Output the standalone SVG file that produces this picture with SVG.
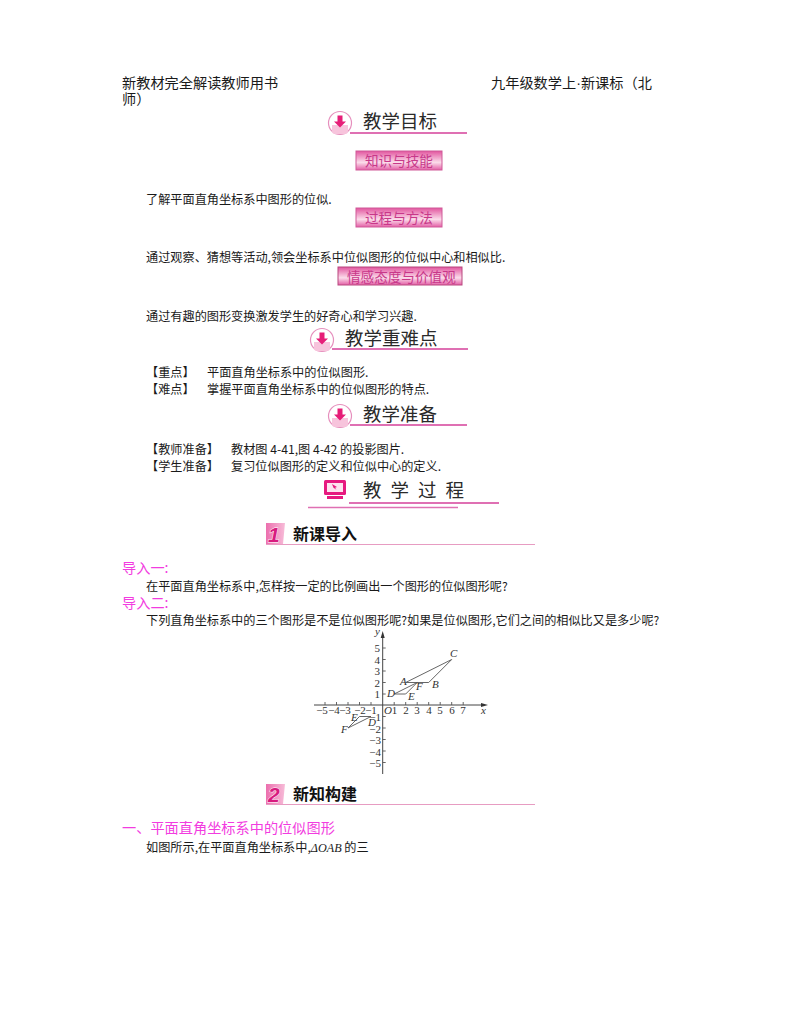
<svg xmlns="http://www.w3.org/2000/svg" width="800" height="1028" viewBox="0 0 800 1028">
<style>
text{font-family:"Noto Sans CJK SC","Noto Sans",sans-serif;fill:#1a1a1a}
.h{font-size:14.2px}
.b{font-size:12.16px}
.m{font-size:14.2px;fill:#f23ce0}
.t{font-size:18.5px;fill:#2a2a2a}
.p{font-size:13.6px;fill:#c8388a}
.s{font-size:16px;font-weight:700;fill:#111}
.u{stroke:#d4409a;stroke-width:1.3;fill:none}
.n{font-family:"Liberation Serif",serif;font-size:11px;fill:#333}
.i{font-family:"Liberation Serif",serif;font-style:italic;font-size:11px;fill:#333}
.a{stroke:#444;stroke-width:1;fill:none}
.l{stroke:#555;stroke-width:.9;fill:none}
.d{font-family:"Liberation Sans",sans-serif;font-style:italic;font-weight:700;font-size:21px;fill:#d81b7f;stroke:#fff;stroke-width:.8;paint-order:stroke}
</style>
<defs>
<linearGradient id="g" x1="0" y1="0" x2="0" y2="1"><stop offset="0" stop-color="#e2559f"/><stop offset=".6" stop-color="#fbdcea"/><stop offset="1" stop-color="#e35ea6"/></linearGradient>
<linearGradient id="k" x1="0" y1="0" x2="1" y2="0"><stop offset="0" stop-color="#ec6fae"/><stop offset="1" stop-color="#f7bcd8"/></linearGradient>
<g id="badge"><circle r="11.5" fill="#fff" stroke="#e68fbd" stroke-width="1.2"/><path d="M-8 2h16v6a3 3 0 0 1-3 3h-10a3 3 0 0 1-3-3z" fill="#f7c4dc"/><path d="M-2.500-7.500h5v6h3.500l-6 6-6-6h3.500z" fill="#e61e78"/></g>
</defs>
<text class="h" x="122" y="87.500">新教材完全解读教师用书</text>
<text class="h" x="491" y="87.500">九年级数学上<tspan style="font-family:'Liberation Sans',sans-serif">·</tspan>新课标（北</text>
<text class="h" x="122" y="103.500">师）</text>
<g id="node-goal"><use href="#badge" x="340" y="123"/><path class="u" d="M350 133H467"/><text class="t" x="363" y="128">教学目标</text></g>
<g id="node-skill"><rect x="356" y="151" width="86" height="19" fill="url(#g)" stroke="#d05a98"/><text class="p" x="365" y="165.500">知识与技能</text></g>
<text class="b" x="146" y="204">了解平面直角坐标系中图形的位似.</text>
<g id="node-method"><rect x="356" y="208" width="86" height="19" fill="url(#g)" stroke="#d05a98"/><text class="p" x="365" y="223">过程与方法</text></g>
<text class="b" x="146" y="262">通过观察、猜想等活动,领会坐标系中位似图形的位似中心和相似比.</text>
<g id="node-attitude"><rect x="338" y="267" width="124" height="18" fill="url(#g)" stroke="#b8487f"/><text class="p" x="347" y="281.500">情感态度与价值观</text></g>
<text class="b" x="146" y="321">通过有趣的图形变换激发学生的好奇心和学习兴趣.</text>
<g id="node-key"><use href="#badge" x="322" y="340"/><path class="u" d="M332 349H468"/><text class="t" x="345" y="345">教学重难点</text></g>
<text class="b" x="146" y="377">【重点】</text><text class="b" x="207" y="377">平面直角坐标系中的位似图形.</text>
<text class="b" x="146" y="394">【难点】</text><text class="b" x="207" y="394">掌握平面直角坐标系中的位似图形的特点.</text>
<g id="node-prep"><use href="#badge" x="340" y="416"/><path class="u" d="M350 425H467"/><text class="t" x="363" y="421">教学准备</text></g>
<text class="b" x="146" y="453.500">【教师准备】</text><text class="b" x="231" y="453.500">教材图 4-41,图 4-42 的投影图片.</text>
<text class="b" x="146" y="470.500">【学生准备】</text><text class="b" x="231" y="470.500">复习位似图形的定义和位似中心的定义.</text>
<g id="node-process">
<rect x="324" y="480" width="22" height="15" rx="1.500" fill="#e6197f"/><rect x="327" y="483" width="16" height="9" fill="#fde3ef"/><path d="M332 484l5 3-2 .7 1.500 2-3-2z" fill="#e6197f"/><path d="M327 496h16v3h-16z" fill="#e6197f"/>
<text class="t" x="363" y="497" style="letter-spacing:9px">教学过程</text>
<path class="u" d="M349 503H499"/><path class="u" d="M308 507.500H458" stroke-opacity=".75"/></g>
<g id="node-intro"><path d="M266 523h19l-2 21h-17z" fill="url(#k)"/><text class="d" x="268" y="542">1</text><path d="M266 544.500H535" stroke="#e79cc2" stroke-width="1.200"/><text class="s" x="293" y="540">新课导入</text></g>
<text class="m" x="122" y="573">导入一:</text>
<text class="b" x="146" y="591">在平面直角坐标系中,怎样按一定的比例画出一个图形的位似图形呢?</text>
<text class="m" x="122" y="607.500">导入二:</text>
<text class="b" x="146" y="625">下列直角坐标系中的三个图形是不是位似图形呢?如果是位似图形,它们之间的相似比又是多少呢?</text>
<g id="chart">
<path class="a" d="M314 705H484M382.700 774V636"/>
<path d="M488 705l-7-2v4zM382.700 631l-2 7h4z" fill="#333"/>
<path class="l" d="M325 705v-3M336.500 705v-3M348 705v-3M359.500 705v-3M371 705v-3M394.200 705v-3M405.700 705v-3M417.200 705v-3M428.700 705v-3M440.200 705v-3M451.700 705v-3M463.200 705v-3M382.700 648h3M382.700 659.500h3M382.700 671h3M382.700 682.500h3M382.700 694h3M382.700 716.500h3M382.700 728h3M382.700 739.500h3M382.700 751h3M382.700 762.500h3"/>
<path class="l" d="M405.700 682.500L451.700 659.500L428.700 682.500ZM394.200 694L417.200 682.500L405.700 694ZM348 728L371 716.500H359.500Z"/>
<text class="n" x="322" y="714" text-anchor="middle">−5</text><text class="n" x="334" y="714" text-anchor="middle">−4</text><text class="n" x="345" y="714" text-anchor="middle">−3</text><text class="n" x="360" y="714" text-anchor="middle">−2</text><text class="n" x="371" y="714" text-anchor="middle">−1</text>
<text class="n" x="394.500" y="714" text-anchor="middle">1</text><text class="n" x="406" y="714" text-anchor="middle">2</text><text class="n" x="417" y="714" text-anchor="middle">3</text><text class="n" x="429" y="714" text-anchor="middle">4</text><text class="n" x="440" y="714" text-anchor="middle">5</text><text class="n" x="452" y="714" text-anchor="middle">6</text><text class="n" x="463" y="714" text-anchor="middle">7</text>
<text class="n" x="380" y="652" text-anchor="end">5</text><text class="n" x="380" y="663.500" text-anchor="end">4</text><text class="n" x="380" y="675" text-anchor="end">3</text><text class="n" x="380" y="686.500" text-anchor="end">2</text><text class="n" x="380" y="698" text-anchor="end">1</text>
<text class="n" x="381" y="721" text-anchor="end">−1</text><text class="n" x="381" y="732.500" text-anchor="end">−2</text><text class="n" x="381" y="744" text-anchor="end">−3</text><text class="n" x="381" y="755.500" text-anchor="end">−4</text><text class="n" x="381" y="767" text-anchor="end">−5</text>
<text class="i" x="375" y="635">y</text><text class="i" x="481" y="714">x</text><text class="i" x="384" y="714">O</text>
<text class="i" x="400" y="685">A</text><text class="i" x="432" y="688">B</text><text class="i" x="450" y="657">C</text><text class="i" x="387" y="697">D</text><text class="i" x="408" y="700">E</text><text class="i" x="416" y="690">F</text>
<text class="i" x="351" y="721">E</text><text class="i" x="368" y="726">D</text><text class="i" x="341" y="733">F</text>
</g>
<g id="node-build"><path d="M266 784h19l-2 20h-17z" fill="url(#k)"/><text class="d" x="268" y="802">2</text><path d="M266 804.500H535" stroke="#e79cc2" stroke-width="1.200"/><text class="s" x="293" y="800">新知构建</text></g>
<text class="m" x="122" y="833">一、平面直角坐标系中的位似图形</text>
<text class="b" x="146" y="851.500">如图所示,在平面直角坐标系中,<tspan style="font-family:'Liberation Serif',serif;font-style:italic">ΔOAB</tspan> 的三</text>
</svg>
